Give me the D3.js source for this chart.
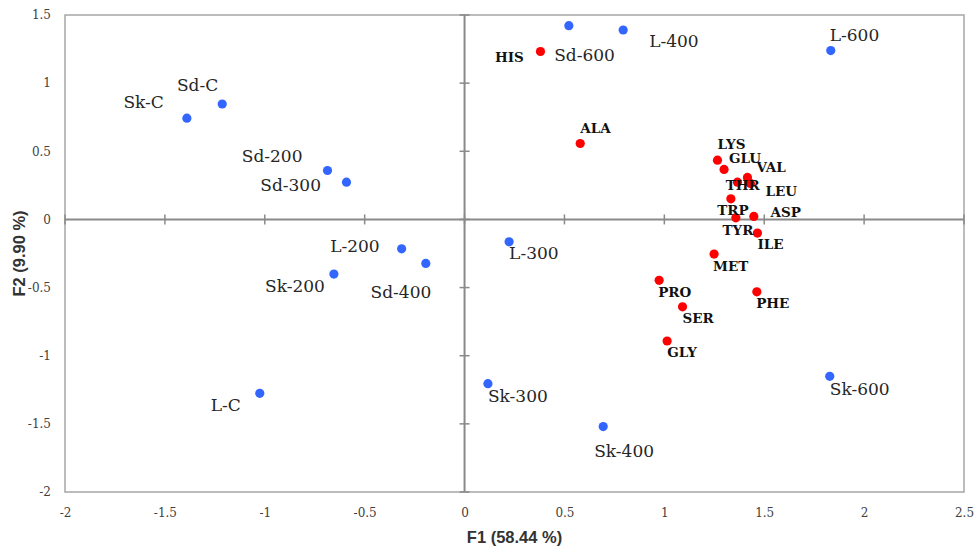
<!DOCTYPE html>
<html>
<head>
<meta charset="utf-8">
<script src="https://cdn.jsdelivr.net/npm/d3@7"></script>
<style>
  html, body { margin: 0; padding: 0; background: #fff; }
  svg { display: block; }
</style>
</head>
<body>
<svg id="chart" width="975" height="552"></svg>
<script>
// PCA scores of the samples (F1, F2)
const sampleNames = ["Sk-C", "Sd-C", "Sd-200", "Sd-300", "L-200", "Sd-400", "Sk-200", "L-C",
                     "L-300", "Sk-300", "Sk-400", "Sk-600", "L-600", "L-400", "Sd-600"];
const sampleF1 = [-1.39, -1.213, -0.686, -0.591, -0.315, -0.194, -0.654, -1.025,
                  0.223, 0.117, 0.694, 1.828, 1.833, 0.794, 0.522];
const sampleF2 = [0.743, 0.847, 0.359, 0.273, -0.216, -0.323, -0.401, -1.276,
                  -0.164, -1.205, -1.52, -1.151, 1.239, 1.39, 1.422];

// PCA loadings of the amino acids (F1, F2)
const aminoNames = ["HIS", "ALA", "LYS", "GLU", "VAL", "THR", "LEU", "TRP", "ASP", "TYR",
                    "ILE", "MET", "PRO", "PHE", "SER", "GLY"];
const aminoF1 = [0.38, 0.579, 1.266, 1.299, 1.416, 1.366, 1.431, 1.333, 1.448, 1.358,
                 1.466, 1.249, 0.974, 1.463, 1.091, 1.014];
const aminoF2 = [1.232, 0.557, 0.435, 0.367, 0.308, 0.273, 0.264, 0.151, 0.022, 0.012,
                 -0.1, -0.254, -0.447, -0.531, -0.641, -0.892];

// Axis ticks
const xTickValues = [-2, -1.5, -1, -0.5, 0, 0.5, 1, 1.5, 2, 2.5];
const yTickValues = [-2, -1.5, -1, -0.5, 0, 0.5, 1, 1.5];
const xTitle = "F1 (58.44 %)";
const yTitle = "F2 (9.90 %)";

// Label placement: offset from the point (px) and text anchor
const labelLayout = {
  "Sk-C": [-23, -10, "end"], "Sd-C": [-4, -13, "end"], "Sd-200": [-25, -9, "end"],
  "Sd-300": [-25.5, 9, "end"], "L-200": [-22, 3, "end"], "Sd-400": [5.5, 35, "end"],
  "Sk-200": [-9, 17.7, "end"], "L-C": [-19, 17.7, "end"], "L-300": [0, 17.6, "start"],
  "Sk-300": [0, 18.6, "start"], "Sk-400": [-9, 30, "start"], "Sk-600": [0, 18.7, "start"],
  "L-600": [-1, -10, "start"], "L-400": [26, 17, "start"], "Sd-600": [-14.7, 35.4, "start"],
  "HIS": [-16.7, 10.7, "end"], "ALA": [0, -11, "start"], "LYS": [0, -11, "start"],
  "GLU": [5, -6, "start"], "VAL": [9, -5.6, "start"], "THR": [-11.7, 8, "start"],
  "LEU": [15, 12.7, "start"], "TRP": [-13.7, 16.3, "start"], "ASP": [16.7, 0.4, "start"],
  "TYR": [-13.3, 17.3, "start"], "ILE": [0, 16.3, "start"], "MET": [-1, 16.7, "start"],
  "PRO": [-1, 16.4, "start"], "PHE": [-0.7, 16.6, "start"], "SER": [0, 16, "start"],
  "GLY": [0, 16.3, "start"]
};

const svg = d3.select("#chart");
const plot = { left: 65, top: 15, right: 964, bottom: 492 };

const x = d3.scaleLinear().domain([-2, 2.5]).range([plot.left, plot.right]);
const y = d3.scaleLinear().domain([-2, 1.5]).range([plot.bottom, plot.top]);

// Plain hyphen-minus tick text
const plainNumber = d => String(d);

// Plot frame
svg.append("rect")
  .attr("x", plot.left).attr("y", plot.top)
  .attr("width", plot.right - plot.left).attr("height", plot.bottom - plot.top)
  .attr("fill", "none").attr("stroke", "#a6a6a6").attr("stroke-width", 1.5);

// Tick labels along the frame
const tickFont = "'DejaVu Serif', serif";
const xLabels = svg.append("g")
  .attr("transform", `translate(0,${plot.bottom})`)
  .call(d3.axisBottom(x).tickValues(xTickValues).tickSize(0).tickPadding(0)
        .tickFormat(plainNumber));
xLabels.select(".domain").remove();
xLabels.selectAll("text")
  .attr("y", 25).attr("dy", 0)
  .attr("font-family", tickFont).attr("font-size", 12).attr("fill", "#404040");

const yLabels = svg.append("g")
  .attr("transform", `translate(${plot.left},0)`)
  .call(d3.axisLeft(y).tickValues(yTickValues).tickSize(0).tickPadding(14)
        .tickFormat(plainNumber));
yLabels.select(".domain").remove();
yLabels.selectAll("text")
  .attr("dy", "0.32em")
  .attr("font-family", tickFont).attr("font-size", 12).attr("fill", "#404040");

// Zero axes with crossing tick marks
const axisColor = "#8a8a8a";
const zeroX = svg.append("g").attr("transform", `translate(0,${y(0)})`);
zeroX.append("line")
  .attr("x1", plot.left).attr("x2", plot.right)
  .attr("stroke", axisColor).attr("stroke-width", 2);
zeroX.selectAll("line.tick").data(xTickValues).join("line")
  .attr("class", "tick")
  .attr("x1", d => x(d)).attr("x2", d => x(d))
  .attr("y1", -5).attr("y2", 5)
  .attr("stroke", axisColor).attr("stroke-width", 1.5);

const zeroY = svg.append("g").attr("transform", `translate(${x(0)},0)`);
zeroY.append("line")
  .attr("y1", plot.top).attr("y2", plot.bottom)
  .attr("stroke", axisColor).attr("stroke-width", 2);
zeroY.selectAll("line.tick").data(yTickValues).join("line")
  .attr("class", "tick")
  .attr("y1", d => y(d)).attr("y2", d => y(d))
  .attr("x1", -5).attr("x2", 5)
  .attr("stroke", axisColor).attr("stroke-width", 1.5);

// Axis titles
svg.append("text")
  .attr("x", (plot.left + plot.right) / 2).attr("y", 543)
  .attr("text-anchor", "middle")
  .attr("font-family", "'Liberation Sans', Arial, sans-serif")
  .attr("font-weight", "bold").attr("font-size", 16.5).attr("fill", "#333")
  .text(xTitle);

svg.append("text")
  .attr("transform", `translate(25,${(plot.top + plot.bottom) / 2}) rotate(-90)`)
  .attr("text-anchor", "middle")
  .attr("font-family", "'Liberation Sans', Arial, sans-serif")
  .attr("font-weight", "bold").attr("font-size", 16.5).attr("fill", "#333")
  .text(yTitle);

// Points: samples (blue) and amino acids (red)
const samples = sampleNames.map((n, i) => ({ name: n, f1: sampleF1[i], f2: sampleF2[i] }));
const aminos = aminoNames.map((n, i) => ({ name: n, f1: aminoF1[i], f2: aminoF2[i] }));

svg.append("g").selectAll("circle").data(samples).join("circle")
  .attr("cx", d => x(d.f1)).attr("cy", d => y(d.f2)).attr("r", 4.6)
  .attr("fill", "#3366ff");

svg.append("g").selectAll("circle").data(aminos).join("circle")
  .attr("cx", d => x(d.f1)).attr("cy", d => y(d.f2)).attr("r", 4.6)
  .attr("fill", "#ff0000");

// Labels
svg.append("g").selectAll("text").data(samples).join("text")
  .attr("x", d => x(d.f1) + labelLayout[d.name][0])
  .attr("y", d => y(d.f2) + labelLayout[d.name][1])
  .attr("text-anchor", d => labelLayout[d.name][2])
  .attr("font-family", "'DejaVu Serif', serif").attr("font-size", 17)
  .attr("fill", "#262626")
  .text(d => d.name);

svg.append("g").selectAll("text").data(aminos).join("text")
  .attr("x", d => x(d.f1) + labelLayout[d.name][0])
  .attr("y", d => y(d.f2) + labelLayout[d.name][1])
  .attr("text-anchor", d => labelLayout[d.name][2])
  .attr("font-family", "'DejaVu Serif', serif").attr("font-weight", "bold")
  .attr("font-size", 13.5).attr("fill", "#111")
  .text(d => d.name);
</script>
</body>
</html>
